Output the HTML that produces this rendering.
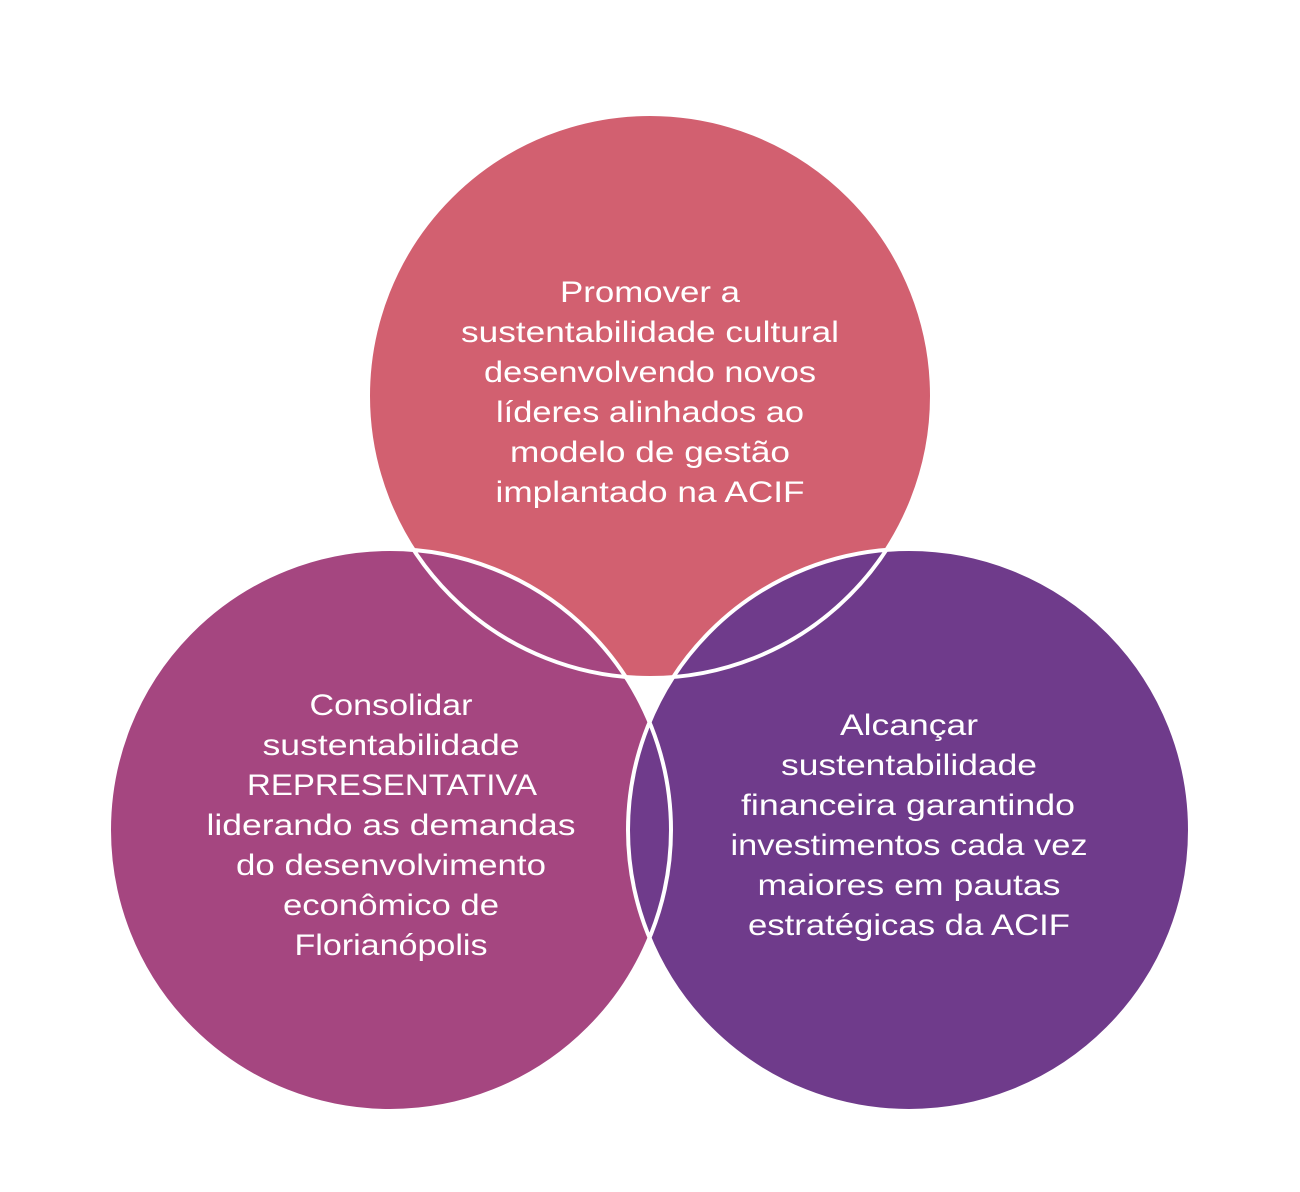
<!DOCTYPE html>
<html><head><meta charset="utf-8"><style>html,body{margin:0;padding:0;background:#fff}</style></head>
<body>
<svg width="1300" height="1187" viewBox="0 0 1300 1187" xmlns="http://www.w3.org/2000/svg">
<circle cx="650" cy="396" r="282" fill="#D26070"/>
<circle cx="390" cy="830" r="281" fill="#A54680"/>
<circle cx="909" cy="830" r="281" fill="#6F3B8B"/>
<g fill="none" stroke="#fff" stroke-width="4">
<circle cx="650" cy="396" r="282"/>
<circle cx="390" cy="830" r="281"/>
<circle cx="909" cy="830" r="281"/>
</g>
<g fill="#fff" font-family="Liberation Sans, sans-serif" font-size="30" text-anchor="middle" lengthAdjust="spacingAndGlyphs">
<text x="650" y="302" textLength="180" lengthAdjust="spacingAndGlyphs">Promover a</text>
<text x="650" y="342" textLength="378" lengthAdjust="spacingAndGlyphs">sustentabilidade cultural</text>
<text x="650" y="382" textLength="332" lengthAdjust="spacingAndGlyphs">desenvolvendo novos</text>
<text x="650" y="422" textLength="308" lengthAdjust="spacingAndGlyphs">líderes alinhados ao</text>
<text x="650" y="462" textLength="280" lengthAdjust="spacingAndGlyphs">modelo de gestão</text>
<text x="650" y="502" textLength="309" lengthAdjust="spacingAndGlyphs">implantado na ACIF</text>
<text x="391" y="715" textLength="163" lengthAdjust="spacingAndGlyphs">Consolidar</text>
<text x="391" y="755" textLength="257" lengthAdjust="spacingAndGlyphs">sustentabilidade</text>
<text x="392" y="795" textLength="290" lengthAdjust="spacingAndGlyphs">REPRESENTATIVA</text>
<text x="391" y="835" textLength="369" lengthAdjust="spacingAndGlyphs">liderando as demandas</text>
<text x="391" y="875" textLength="310" lengthAdjust="spacingAndGlyphs">do desenvolvimento</text>
<text x="391" y="915" textLength="216" lengthAdjust="spacingAndGlyphs">econômico de</text>
<text x="391" y="955" textLength="193" lengthAdjust="spacingAndGlyphs">Florianópolis</text>
<text x="909" y="735" textLength="138" lengthAdjust="spacingAndGlyphs">Alcançar</text>
<text x="909" y="775" textLength="256" lengthAdjust="spacingAndGlyphs">sustentabilidade</text>
<text x="908" y="815" textLength="334" lengthAdjust="spacingAndGlyphs">financeira garantindo</text>
<text x="909" y="855" textLength="357" lengthAdjust="spacingAndGlyphs">investimentos cada vez</text>
<text x="909" y="895" textLength="303" lengthAdjust="spacingAndGlyphs">maiores em pautas</text>
<text x="909" y="935" textLength="322" lengthAdjust="spacingAndGlyphs">estratégicas da ACIF</text>
</g>
</svg>
</body></html>
